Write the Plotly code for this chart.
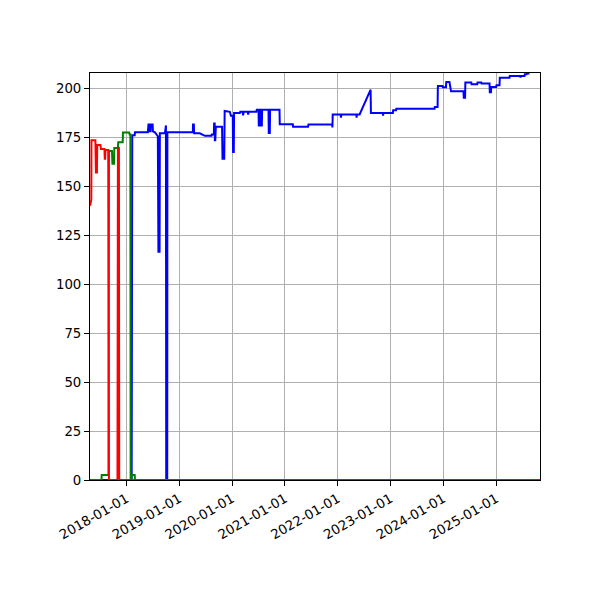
import plotly.graph_objs as go

# values
red_dates = ["2017-04-24", "2017-05-01", "2017-05-03", "2017-05-04", "2017-05-31",
             "2017-06-04", "2017-06-11", "2017-06-13", "2017-07-05", "2017-07-09",
             "2017-08-02", "2017-08-04", "2017-08-07", "2017-08-09", "2017-08-28",
             "2017-09-02", "2017-10-31", "2017-11-03", "2017-11-10", "2017-11-12",
             "2025-10-30"]
red_vals = [140, 143, 143, 173.5, 173.5,
            157, 157, 171, 171, 169,
            169, 164, 164, 168.5, 168.5,
            0, 0, 169.5, 169.5, 0,
            0]

green_dates = ["2017-04-24", "2017-07-12", "2017-07-14", "2017-08-30", "2017-09-02",
               "2017-09-23", "2017-09-26", "2017-10-07", "2017-10-09", "2017-11-03",
               "2017-11-05", "2017-12-06", "2017-12-08", "2018-01-20", "2018-01-23",
               "2018-01-28", "2018-01-30", "2018-02-04", "2018-02-06", "2018-02-27",
               "2018-03-01", "2025-10-30"]
green_vals = [0, 0, 2.5, 2.5, 168,
              168, 161.5, 161.5, 169.5, 169.5,
              172.5, 172.5, 177.4, 177.4, 176.4,
              176.4, 0, 0, 2.5, 2.5,
              0, 0]

blue_dates = ["2017-04-24", "2018-02-06", "2018-02-10", "2018-02-27", "2018-03-01",
              "2018-05-29", "2018-06-02", "2018-06-10", "2018-06-12", "2018-06-17",
              "2018-06-19", "2018-07-01", "2018-07-03", "2018-07-17", "2018-08-06",
              "2018-08-10", "2018-08-18", "2018-08-20", "2018-09-24", "2018-09-27",
              "2018-10-01", "2018-10-03", "2018-10-10", "2018-10-11", "2019-04-05",
              "2019-04-06", "2019-04-12", "2019-04-14", "2019-05-23", "2019-06-27",
              "2019-08-12", "2019-08-14", "2019-08-28", "2019-08-30", "2019-09-03",
              "2019-09-04", "2019-09-07", "2019-09-11", "2019-10-24", "2019-10-27",
              "2019-11-08", "2019-11-11", "2019-12-17", "2019-12-24", "2020-01-06",
              "2020-01-08", "2020-01-13", "2020-01-15", "2020-02-24", "2020-02-27",
              "2020-03-15", "2020-03-17", "2020-03-22", "2020-04-19", "2020-04-21",
              "2020-04-26", "2020-06-17", "2020-06-20", "2020-07-02", "2020-07-04",
              "2020-07-09", "2020-07-11", "2020-07-18", "2020-07-20", "2020-07-25",
              "2020-07-27", "2020-09-09", "2020-09-11", "2020-09-18", "2020-09-20",
              "2020-11-24", "2020-11-26", "2021-02-24", "2021-02-26", "2021-06-09",
              "2021-06-12", "2021-11-23", "2021-11-25", "2021-11-27", "2022-01-21",
              "2022-01-23", "2022-01-26", "2022-05-09", "2022-05-11", "2022-05-13",
              "2022-06-01", "2022-08-16", "2022-08-18", "2022-11-07", "2022-11-10",
              "2022-11-13", "2023-01-17", "2023-01-19", "2023-02-08", "2023-02-10",
              "2023-11-01", "2023-11-03", "2023-11-22", "2023-11-24", "2023-12-26",
              "2023-12-28", "2024-01-19", "2024-01-21", "2024-02-12", "2024-02-19",
              "2024-02-23", "2024-05-19", "2024-05-21", "2024-05-30", "2024-06-01",
              "2024-07-12", "2024-07-14", "2024-08-22", "2024-08-24", "2024-09-19",
              "2024-09-21", "2024-11-15", "2024-11-17", "2024-11-25", "2024-11-27",
              "2024-12-31", "2025-01-02", "2025-01-23", "2025-01-25", "2025-04-02",
              "2025-04-04", "2025-06-15", "2025-06-17", "2025-06-20", "2025-07-15",
              "2025-07-17", "2025-07-29", "2025-07-31", "2025-08-18"]
blue_vals = [0, 0, 176, 176, 177.5,
             177.5, 181.5, 181.5, 178, 178,
             181.5, 181.5, 178, 177.5, 175.5,
             116.5, 116.5, 177, 177, 181,
             181, 0, 0, 177.5, 177.5,
             181.5, 181.5, 177, 177, 175.7,
             175.7, 176.4, 176.4, 182, 182,
             173.5, 173.5, 180.3, 180.3, 164,
             164, 188.4, 188, 186, 186,
             167.5, 167.5, 187.4, 187.4, 188,
             188, 186.2, 188, 188, 186.6,
             188, 188, 189.1, 189.1, 181,
             181, 189.1, 189.1, 181, 181,
             189.1, 189.1, 177.2, 177.2, 189.1,
             189.1, 181.6, 181.6, 180.3, 180.3,
             181.5, 181.5, 180, 186.6, 186.6,
             185, 186.6, 186.6, 185, 186.6,
             186.6, 199.3, 187.4, 187.4, 186,
             187.4, 187.4, 188.8, 188.8, 189.6,
             189.6, 190.5, 190.5, 201.2, 201.2,
             200.5, 200.5, 203.2, 203.2, 199.3,
             198.5, 198.5, 195.2, 195.2, 203,
             203, 202, 202, 203, 203,
             202.4, 202.4, 198, 198, 200.7,
             200.7, 201.5, 201.5, 205.4, 205.4,
             206.3, 206.3, 205.5, 206.3, 206.3,
             207.1, 207.1, 207.5, 207.5]

x_ticks = ["2018-01-01", "2019-01-01", "2020-01-01", "2021-01-01",
           "2022-01-01", "2023-01-01", "2024-01-01", "2025-01-01"]
y_ticks = [0, 25, 50, 75, 100, 125, 150, 175, 200]

traces = [
    go.Scatter(x=blue_dates, y=blue_vals, mode='lines', line=dict(color='blue', width=2)),
    go.Scatter(x=green_dates, y=green_vals, mode='lines', line=dict(color='green', width=2)),
    go.Scatter(x=red_dates, y=red_vals, mode='lines', line=dict(color='red', width=2)),
]

axis_style = dict(
    showline=True, linecolor='black', linewidth=1, mirror=True,
    showgrid=True, gridcolor='#b0b0b0', gridwidth=1,
    ticks='outside', ticklen=5, tickcolor='black',
    zeroline=False, tickfont=dict(family='DejaVu Sans', size=13.3, color='black'),
)

# page body has an 8px margin, so the figure is 592 wide and shifted
layout = go.Layout(
    width=592, height=592, autosize=False,
    margin=dict(l=82, r=59.5, t=64.7, b=120, pad=0),
    paper_bgcolor='white', plot_bgcolor='white',
    showlegend=False,
    font=dict(family='DejaVu Sans', color='black'),
    xaxis=dict(axis_style, type='date', range=["2017-04-24", "2025-10-30"],
               tickvals=x_ticks, ticktext=x_ticks, tickangle=-30),
    yaxis=dict(axis_style, range=[0, 207.8], tickvals=y_ticks),
)

fig = go.Figure(data=traces, layout=layout)
fig.write_html("out.html")
